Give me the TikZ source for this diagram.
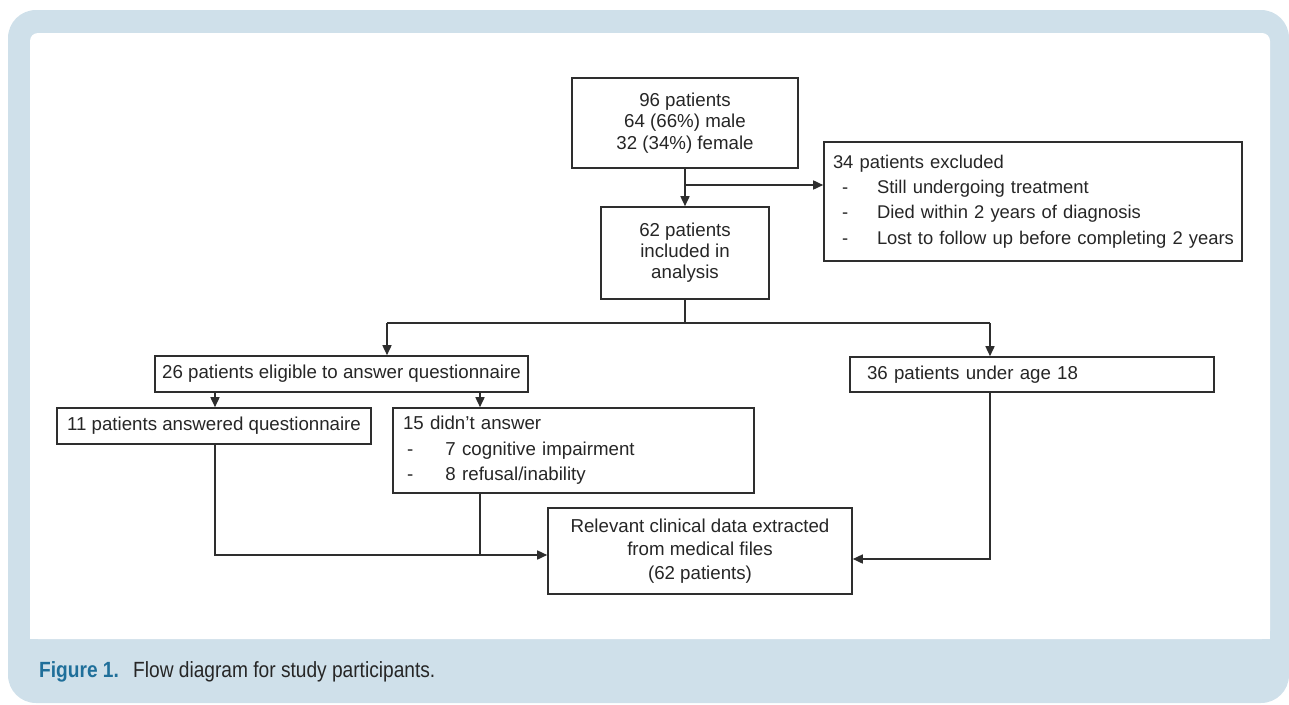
\documentclass[tikz,border=0pt]{standalone}
\usepackage{fontspec}
\setmainfont{Liberation Sans}
\newfontfamily\capfont[FakeStretch=0.87]{Liberation Sans}
\usetikzlibrary{arrows.meta}
\definecolor{frame}{HTML}{CFE0EA}
\definecolor{linec}{HTML}{2E2E2E}
\definecolor{capblue}{HTML}{1F6F9A}
\definecolor{txt}{HTML}{262626}
\begin{document}
\begin{tikzpicture}[x=1pt,y=-1pt,
  box/.style={draw=linec,line width=1.6pt,inner sep=0pt,text=txt,font=\fontsize{18.7}{21.5}\selectfont},
  cbox/.style={box,align=center},
  lbox/.style={box,align=left},
  arr/.style={draw=linec,line width=1.6pt,-{Triangle[length=10pt,width=9pt]}},
  ln/.style={draw=linec,line width=1.6pt}]
\useasboundingbox (0,0) rectangle (1289,704);
\fill[frame,rounded corners=28pt] (8,10) rectangle (1289,703);
\fill[white,rounded corners=8pt] (30,33) rectangle (1270,639);
\fill[white] (30,600) rectangle (1270,639);

\node[cbox,minimum width=226pt,minimum height=90pt] (top) at (685,123) {96 patients\\64 (66\%) male\\32 (34\%) female};
\node[lbox,text width=400pt,inner xsep=9pt,minimum height=119pt,font=\fontsize{18.4}{25.3}\selectfont] (excl) at (1033,201.5)
 {\mbox{34 patients excluded}\\
  \mbox{\hspace*{9pt}\makebox[35pt][l]{-}Still undergoing treatment}\\
  \mbox{\hspace*{9pt}\makebox[35pt][l]{-}Died within 2 years of diagnosis}\\
  \mbox{\hspace*{9pt}\makebox[35pt][l]{-}Lost to follow up before completing 2 years}};
\node[cbox,minimum width=168pt,minimum height=92pt,font=\fontsize{18.7}{21}\selectfont] (incl) at (685,253) {62 patients\\included in\\analysis};
\node[cbox,minimum width=373pt,minimum height=36pt] (elig) at (341.5,374) {26 patients eligible to answer questionnaire};
\node[lbox,text width=330pt,inner xsep=17pt,minimum height=35pt] (under) at (1032,374.5) {36 patients under age 18};
\node[cbox,minimum width=314pt,minimum height=36pt] (ans) at (214,426) {11 patients answered questionnaire};
\node[lbox,text width=341pt,inner xsep=10pt,minimum height=85pt,font=\fontsize{18.7}{25.5}\selectfont] (didnt) at (573.5,450.5)
 {15 didn't answer\\
  \hspace*{4pt}\makebox[38.5pt][l]{-}7 cognitive impairment\\
  \hspace*{4pt}\makebox[38.5pt][l]{-}8 refusal/inability};
\node[cbox,minimum width=304pt,minimum height=86pt,font=\fontsize{18.7}{23.5}\selectfont] (final) at (700,551) {Relevant clinical data extracted\\from medical files\\(62 patients)};

\node[anchor=base west,inner sep=0pt,font=\capfont\bfseries\fontsize{22}{26}\selectfont,text=capblue] (cap1) at (39,677) {Figure 1.};
\node[anchor=base west,inner sep=0pt,font=\capfont\fontsize{22}{26}\selectfont,text=txt] (cap2) at (133,677) {Flow diagram for study participants.};

\coordinate (j1) at (685,185);
\draw[arr] (top.south) -- (incl.north);
\draw[arr] (j1) -- (j1 -| excl.west);
\coordinate (j2) at (685,323);
\coordinate (j2l) at (387,323);
\coordinate (j2r) at (990,323);
\draw[ln] (incl.south) -- (j2);
\draw[ln] (j2l) -- (j2r);
\draw[arr] (j2l) -- (j2l |- elig.north);
\draw[arr] (j2r) -- (j2r |- under.north);
\coordinate (ea) at (215,0);
\coordinate (eb) at (480,0);
\draw[arr] (ea |- elig.south) -- (ea |- ans.north);
\draw[arr] (eb |- elig.south) -- (eb |- didnt.north);
\coordinate (m1) at (215,555);
\coordinate (m2) at (480,555);
\coordinate (m3) at (990,559);
\draw[arr] (m1 |- ans.south) -- (m1) -- (m1 -| final.west);
\draw[ln] (m2 |- didnt.south) -- (m2);
\draw[arr] (m3 |- under.south) -- (m3) -- (m3 -| final.east);
\end{tikzpicture}
\end{document}
